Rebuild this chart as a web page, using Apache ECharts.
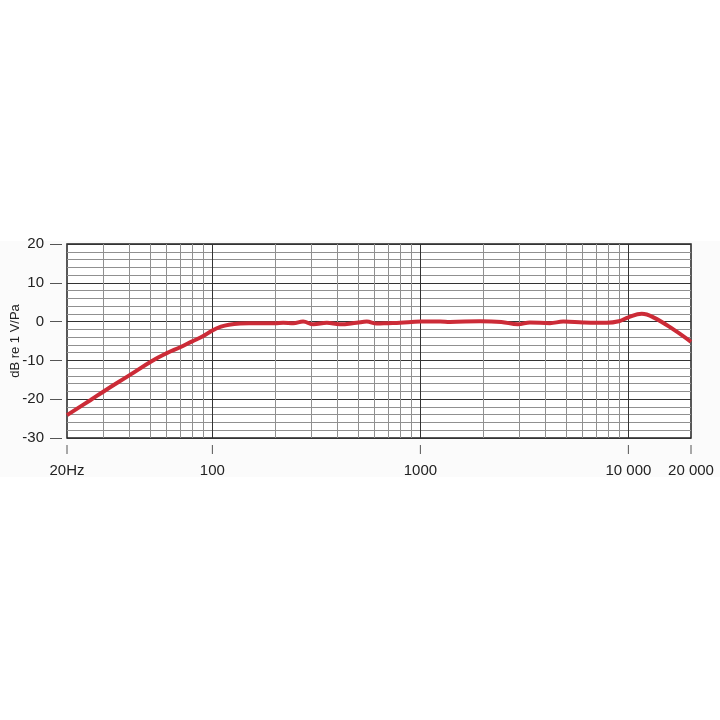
<!DOCTYPE html>
<html>
<head>
<meta charset="utf-8">
<style>
  html, body { margin: 0; padding: 0; background: #fff; }
  #chart { width: 720px; height: 720px; }
</style>
<script src="https://cdn.jsdelivr.net/npm/echarts@6/dist/echarts.min.js"></script>
</head>
<body>
<div id="chart"></div>
<script>
// frequency response
var freqs = [20, 26, 30, 40, 51, 60, 70, 80, 90, 100, 110, 120, 136, 150, 200, 219, 245, 273, 306, 355, 410, 494, 552, 617, 700, 798, 1000, 1243, 1387, 1936, 2450, 2946, 3365, 4197, 4864, 6068, 7866, 9000, 10000, 11600, 13190, 16450, 20000];
var levels = [-24.1, -20.2, -18, -13.8, -10.2, -8.2, -6.6, -5.1, -3.8, -2.3, -1.3, -0.8, -0.5, -0.45, -0.45, -0.3, -0.4, 0, -0.7, -0.3, -0.7, -0.3, 0, -0.5, -0.4, -0.3, 0, 0, -0.1, 0.1, -0.1, -0.7, -0.2, -0.4, 0, -0.2, -0.3, 0.1, 1.1, 2.0, 1.1, -2.0, -5.2];

var minorFreqs = [30, 40, 50, 60, 70, 80, 90, 200, 300, 400, 500, 600, 700, 800, 900, 2000, 3000, 4000, 5000, 6000, 7000, 8000, 9000];
var majorFreqs = [100, 1000, 10000];
var xTickValues = [20, 100, 1000, 10000, 20000];
var xTickLabels = { 20: '20Hz', 100: '100', 1000: '1000', 10000: '10 000', 20000: '20 000' };

var chart = echarts.init(document.getElementById('chart'));

var option = {
  animation: false,
  textStyle: { fontFamily: 'Liberation Sans, Arial, sans-serif' },
  graphic: [
    { type: 'rect', z: -10, shape: { x: 0, y: 241, width: 720, height: 236 }, style: { fill: '#fbfbfb' } }
  ],
  grid: {
    left: 67, right: 29, top: 244, bottom: 282,
    outerBoundsMode: 'none',
    containLabel: false,
    show: true, borderColor: '#222', borderWidth: 1.5, backgroundColor: '#fff'
  },
  xAxis: {
    type: 'log',
    logBase: 10,
    min: 20,
    max: 20000,
    splitNumber: 3,
    offset: 7,
    axisLine: { show: false },
    axisTick: { show: false },
    axisLabel: {
      margin: 18, fontSize: 15, color: '#222',
      formatter: function (v) { return xTickLabels[Math.round(v)] || ''; }
    },
    splitLine: { show: false }
  },
  yAxis: {
    type: 'value',
    min: -30,
    max: 20,
    interval: 10,
    offset: 5,
    name: 'dB re 1 V/Pa',
    nameLocation: 'middle',
    nameRotate: 90,
    nameGap: 40,
    nameMoveOverlap: false,
    nameTextStyle: { fontSize: 13, color: '#222' },
    axisLine: { show: false },
    axisTick: { show: true, length: 12, lineStyle: { color: '#555', width: 1 } },
    axisLabel: { margin: 18, fontSize: 15, color: '#222' },
    splitLine: { show: true, lineStyle: { color: '#333', width: 1 } },
    minorTick: { show: false, splitNumber: 5 },
    minorSplitLine: { show: true, lineStyle: { color: '#909090', width: 1 } }
  },
  series: [
    {
      type: 'line',
      data: freqs.map(function (f, i) { return [f, levels[i]]; }),
      smooth: 0.4,
      showSymbol: false,
      symbol: 'none',
      z: 5,
      lineStyle: { color: '#cc2b37', width: 4 },
      markLine: {
        silent: true,
        symbol: 'none',
        label: { show: false },
        animation: false,
        data: minorFreqs.map(function (f) {
          return { xAxis: f, lineStyle: { color: '#909090', width: 1, type: 'solid' } };
        }).concat(majorFreqs.map(function (f) {
          return { xAxis: f, lineStyle: { color: '#333', width: 1, type: 'solid' } };
        }))
      }
    },
    {
      // x-axis tick marks, detached below the frame
      type: 'custom',
      clip: false,
      silent: true,
      data: xTickValues.map(function (f) { return [f, -30]; }),
      renderItem: function (params, api) {
        var p = api.coord([api.value(0), api.value(1)]);
        return {
          type: 'line',
          shape: { x1: p[0], y1: p[1] + 7, x2: p[0], y2: p[1] + 16 },
          style: { stroke: '#555', lineWidth: 1 }
        };
      }
    }
  ]
};

chart.setOption(option);
</script>
</body>
</html>
